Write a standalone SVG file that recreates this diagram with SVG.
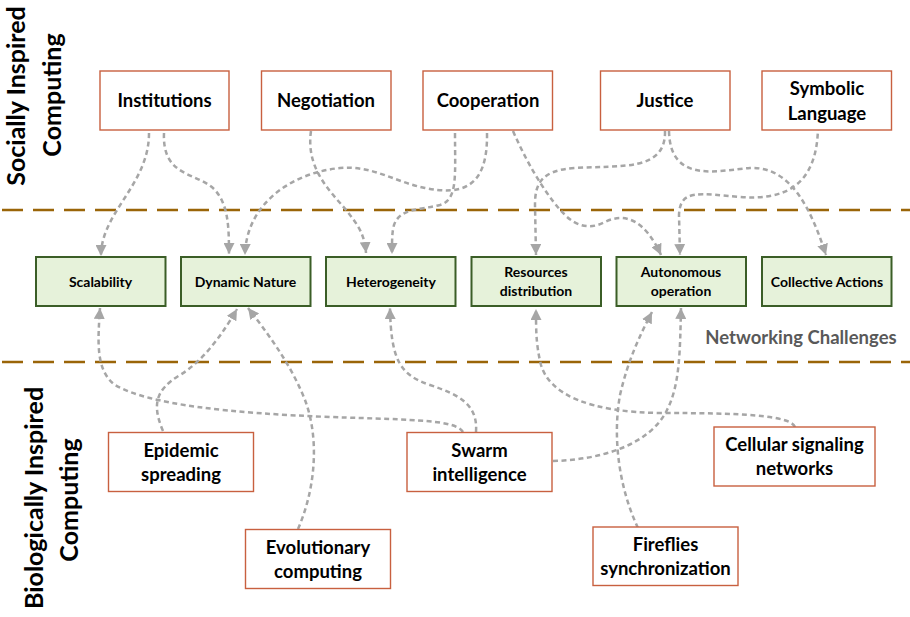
<svg xmlns="http://www.w3.org/2000/svg" width="910" height="617" viewBox="0 0 910 617">
  <defs>
    <marker id="arrow" viewBox="0 0 10 10" refX="10" refY="5" markerWidth="11" markerHeight="11" markerUnits="userSpaceOnUse" orient="auto">
      <path d="M0,0 L10,5 L0,10 Z" fill="#a6a6a6"/>
    </marker>
    <style>
      .sep { stroke: #9a6508; stroke-width: 2.6; stroke-dasharray: 21 10; fill: none; }
      .src rect { fill: #ffffff; stroke: #c8603f; stroke-width: 1.4; }
      .ch rect { fill: #e6f2da; stroke: #3b5e27; stroke-width: 2; }
      .src text { font-family: Lato, "Open Sans", sans-serif; font-weight: bold; font-size: 18.5px; fill: #000; text-anchor: middle; }
      .ch text { font-family: Lato, "Open Sans", sans-serif; font-weight: bold; font-size: 14px; fill: #000; text-anchor: middle; }
      .side { font-family: Lato, "Open Sans", sans-serif; font-weight: bold; font-size: 25px; fill: #000; text-anchor: middle; }
      .band { font-family: Lato, "Open Sans", sans-serif; font-weight: bold; font-size: 18.5px; fill: #595959; text-anchor: middle; }
      .link { fill: none; stroke: #a6a6a6; stroke-width: 2.5; stroke-dasharray: 5 3.5; }
      .link.to { marker-end: url(#arrow); }
    </style>
  </defs>

  <rect width="910" height="617" fill="#ffffff"/>

  <!-- band separators -->
  <line class="sep" x1="2" y1="210" x2="910" y2="210"/>
  <line class="sep" x1="2" y1="362" x2="910" y2="362"/>

  <!-- side titles -->
  <text class="side" transform="translate(25,96) rotate(-90)">Socially Inspired</text>
  <text class="side" transform="translate(61,95) rotate(-90)">Computing</text>
  <text class="side" transform="translate(43,498) rotate(-90)">Biologically Inspired</text>
  <text class="side" transform="translate(78,500) rotate(-90)">Computing</text>
  <text class="band" x="801" y="344">Networking Challenges</text>

  <!-- connectors -->
  <g id="connectors">
    <!-- socially inspired sources to challenges -->
    <path class="link to" d="M149,133 C149,185 101,212 101,256"/>
    <path class="link to" d="M164,133 C162,178 198,172 215,190 C228,205 229,225 229,254"/>
    <path class="link to" d="M487,133 C488,190 460,195 425,188 C395,182 372,165 340,168 C290,173 246,205 245,255"/>
    <path class="link to" d="M455,133 C455,175 458,200 440,205 C420,210 400,208 394,225 C392,232 392,240 392,254"/>
    <path class="link to" d="M311,131 C305,172 335,195 350,215 C362,230 365,240 366,253"/>
    <path class="link to" d="M513,131 C530,170 550,200 565,215 C576,226 590,230 605,222 C625,212 645,220 661,255"/>
    <path class="link to" d="M665,131 C666,172 620,165 575,168 C540,170 535,185 535,205 L536,255"/>
    <path class="link to" d="M669,131 C670,185 720,170 750,168 C792,166 812,212 826,255"/>
    <path class="link to" d="M818,125 C818,190 780,200 740,197 C700,194 680,188 679,215 L680,255"/>
    <!-- biologically inspired sources to challenges -->
    <path class="link to" d="M463,432 C455,420 420,420 330,417 C230,413 150,405 115,385 C95,370 98,340 100,308"/>
    <path class="link to" d="M476,432 C478,405 460,395 430,385 C400,375 391,360 390,308"/>
    <path class="link to" d="M163,431 C152,405 155,390 180,375 C205,360 225,330 237,309"/>
    <path class="link to" d="M298,529 C315,490 320,440 305,400 C290,362 265,330 248,308"/>
    <path class="link to" d="M553,461 C600,460 650,445 667,410 C680,385 680,350 681,308"/>
    <path class="link to" d="M638,528 C620,490 612,440 620,395 C628,360 640,335 652,312"/>
    <path class="link to" d="M795,427 C790,415 740,413 660,413 C590,412 550,395 541,365 C536,345 536,330 536,309"/>
  </g>

  <!-- socially inspired computing -->
  <g id="institutions" class="src"><rect x="100" y="71" width="129" height="59"/><text x="164.5" y="107">Institutions</text></g>
  <g id="negotiation" class="src"><rect x="261.5" y="71" width="129.5" height="59"/><text x="326" y="107">Negotiation</text></g>
  <g id="cooperation" class="src"><rect x="423" y="71" width="129.5" height="59"/><text x="488" y="107">Cooperation</text></g>
  <g id="justice" class="src"><rect x="600.5" y="71" width="129.5" height="59"/><text x="665" y="107">Justice</text></g>
  <g id="symbolic-language" class="src"><rect x="762" y="71" width="129.5" height="59"/><text x="827" y="94.5">Symbolic</text><text x="827" y="119.5">Language</text></g>

  <!-- networking challenges -->
  <g id="scalability" class="ch"><rect x="36" y="257" width="129.5" height="49"/><text x="100.5" y="286.5">Scalability</text></g>
  <g id="dynamic-nature" class="ch"><rect x="181" y="257" width="129.5" height="49"/><text x="245.5" y="286.5">Dynamic Nature</text></g>
  <g id="heterogeneity" class="ch"><rect x="326" y="257" width="129.5" height="49"/><text x="391" y="286.5">Heterogeneity</text></g>
  <g id="resources-distribution" class="ch"><rect x="471.5" y="257" width="129.5" height="49"/><text x="536" y="277">Resources</text><text x="536" y="295.5">distribution</text></g>
  <g id="autonomous-operation" class="ch"><rect x="616.5" y="257" width="129.5" height="49"/><text x="681" y="277">Autonomous</text><text x="681" y="295.5">operation</text></g>
  <g id="collective-actions" class="ch"><rect x="762" y="257" width="129.5" height="49"/><text x="827" y="286.5">Collective Actions</text></g>

  <!-- biologically inspired computing -->
  <g id="epidemic-spreading" class="src"><rect x="108.5" y="432.5" width="145" height="59"/><text x="181" y="456.5">Epidemic</text><text x="181" y="480.5">spreading</text></g>
  <g id="evolutionary-computing" class="src"><rect x="245.5" y="529.5" width="145" height="59"/><text x="318" y="553.5">Evolutionary</text><text x="318" y="577.5">computing</text></g>
  <g id="swarm-intelligence" class="src"><rect x="407" y="432.5" width="145" height="59"/><text x="479.5" y="456.5">Swarm</text><text x="479.5" y="480.5">intelligence</text></g>
  <g id="cellular-signaling-networks" class="src"><rect x="714" y="427" width="161" height="59"/><text x="794.5" y="451">Cellular signaling</text><text x="794.5" y="475">networks</text></g>
  <g id="fireflies-synchronization" class="src"><rect x="593" y="527" width="145" height="58.5"/><text x="665.5" y="550.5">Fireflies</text><text x="665.5" y="574.5">synchronization</text></g>
</svg>
